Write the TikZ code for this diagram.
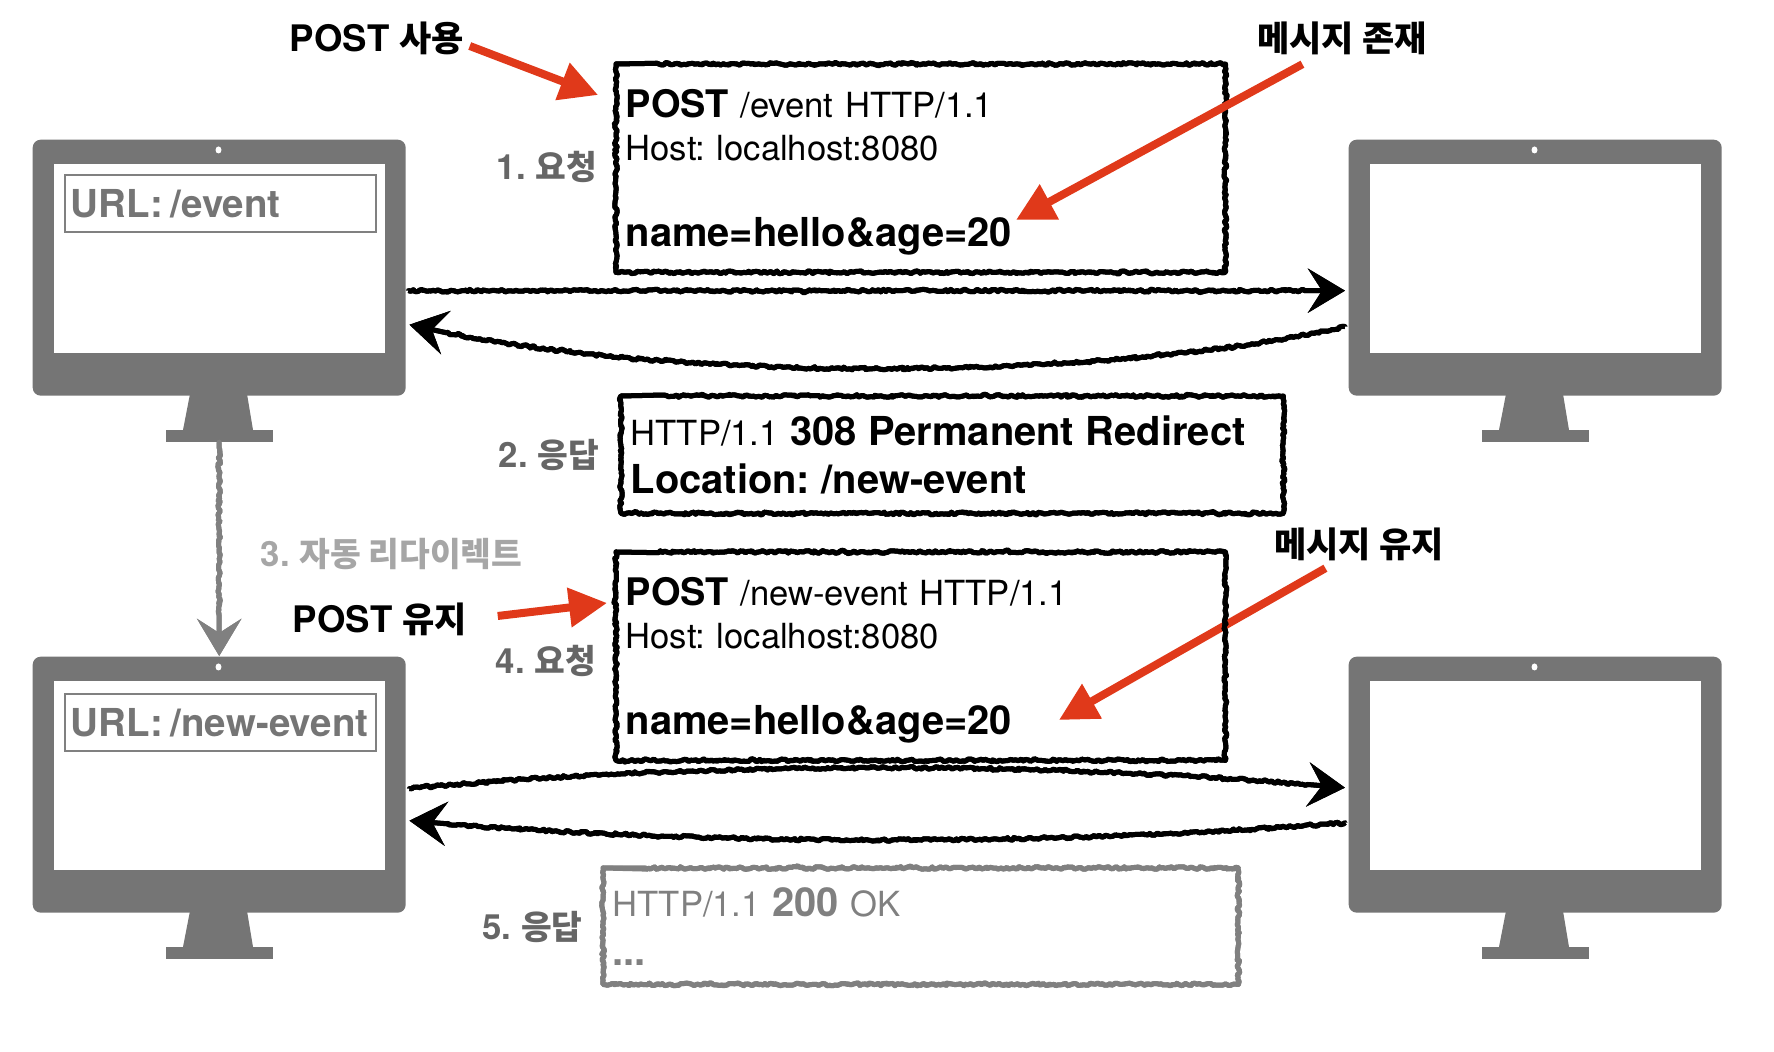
\documentclass[tikz,border=0pt]{standalone}
\usepackage{fontspec}
\setmainfont{TeX Gyre Heros}
\newfontfamily\kr[Scale=.96]{Noto Sans CJK KR}
\usetikzlibrary{arrows.meta,decorations.pathmorphing}
\definecolor{ink}{HTML}{000000}
\definecolor{mono}{HTML}{757575}
\definecolor{muted}{HTML}{808080}
\definecolor{pale}{HTML}{A6A6A6}
\definecolor{note}{HTML}{666666}
\definecolor{hot}{HTML}{E0391A}
\newcommand{\fsr}{\fontsize{9.85}{12.2}\selectfont\mdseries}
\newcommand{\fsb}{\fontsize{11.35}{12.2}\selectfont\bfseries}
\newcommand{\fsp}{\fontsize{10.8}{12.2}\selectfont\bfseries}
\newcommand{\lift}{\rule{0pt}{.36cm}}
\tikzset{
  rough/.style={line join=round, decorate, decoration={random steps, segment length=.025cm, amplitude=.013cm, post length=.4cm}},
  sketch/.style={draw=ink, line width=.05cm, rough, preaction={draw=ink, line width=.05cm, rough}},
  gsketch/.style={draw=muted, line width=.05cm, rough, preaction={draw=muted, line width=.05cm, rough}},
  sktip/.style={-{Stealth[length=.37cm, width=.44cm, inset=.14cm]}},
  hotline/.style={draw=hot, line width=.08cm, -{Triangle[length=.38cm, width=.38cm]}},
  lbl/.style={text=ink, font=\fontsize{10.4}{12}\selectfont\bfseries, inner sep=0pt},
  nlabel/.style={text=note, font=\fontsize{9.9}{12}\selectfont\bfseries, inner sep=0pt},
  msgbox/.style={inner xsep=.09cm, inner ysep=0pt, align=left, text=ink, font=\fsr},
  urlbox/.style={draw=muted, line width=.02cm, anchor=north west, minimum width=3.11cm,
    text width=2.99cm, inner xsep=.06cm, inner ysep=0pt, minimum height=.57cm, align=left,
    text=mono, font=\fontsize{10.95}{12}\selectfont\bfseries},
  monitor/.pic={
    \node[fill=mono, rounded corners=.08cm, anchor=north west, minimum width=3.73cm, minimum height=2.56cm, inner sep=0pt] (-body) at (0,0) {};
    \node[fill=white, anchor=north west, minimum width=3.31cm, minimum height=1.89cm, inner sep=0pt] (-screen) at (.21,.24) {};
    \node[fill=mono, anchor=north west, minimum width=1.07cm, minimum height=.12cm, inner sep=0pt] (-base) at (1.33,2.90) {};
    \fill[mono] (1.58,2.55) -- (2.15,2.55) -- (2.21,2.91) -- (1.51,2.91) -- cycle;
    \fill[white] (1.865,.11) ellipse (.03 and .035);
  }
}
\begin{document}
\frenchspacing
\begin{tikzpicture}[x=1cm, y=-1cm]
  \useasboundingbox (0,0) rectangle (17.74,10.52);
  \pgfmathsetseed{7}

  % monitors
  \pic (cla) at (.32,1.39) {monitor};
  \pic (srva) at (13.48,1.39) {monitor};
  \pic (clb) at (.32,6.56) {monitor};
  \pic (srvb) at (13.48,6.56) {monitor};

  \node[urlbox] (urla) at (.64,1.74) {URL:\kern-.05cm\ /event};
  \node[urlbox] (urlb) at (.64,6.93) {URL:\kern-.05cm\ /new-event};

  % labels
  \node[lbl] (postuse) at (3.77,.38) {POST {\kr 사용}};
  \node[lbl] (msgon) at (13.42,.38) {{\kr 메시지 존재}};
  \node[lbl] (postkeep) at (3.80,6.19) {POST {\kr 유지}};
  \node[lbl] (msgkeep) at (13.59,5.44) {{\kr 메시지 유지}};
  \node[nlabel] (stepa) at (5.47,1.67) {1. {\kr 요청}};
  \node[nlabel] (stepb) at (5.49,4.55) {2. {\kr 응답}};
  \node[nlabel, text=pale] (stepc) at (3.915,5.54) {3. {\kr 자동 리다이렉트}};
  \node[nlabel] (stepd) at (5.46,6.61) {4. {\kr 요청}};
  \node[nlabel] (stepe) at (5.325,9.27) {5. {\kr 응답}};

  % red pointers
  \coordinate (tipa) at (5.98,.95);
  \coordinate (tipb) at (10.16,2.20);
  \coordinate (tipc) at (6.07,6.03);
  \coordinate (tipd) at (10.59,7.20);
  \draw[hotline] ([shift={(.05,.08)}]postuse.east) -- (tipa);
  \draw[hotline] ([xshift=.3cm, yshift=.03cm]postkeep.east) -- (tipc);
  \draw[hotline] ([shift={(-1.19,.07)}]msgkeep.south east) -- (tipd);

  % messages
  \node[msgbox, anchor=north west, text width=5.9cm, minimum width=6.08cm, minimum height=2.07cm] (reqa) at (6.16,.64)
    {\lift\fsp POST \fsr /event HTTP/1.1\\ Host: localhost:8080\\[12.2pt] \fsb name=hello\&age=20};
  \node[msgbox, anchor=north west, text width=6.43cm, minimum width=6.61cm, minimum height=1.16cm] (resa) at (6.21,3.96)
    {\fsr HTTP/1.1 \fsb 308 Permanent Redirect\\[1.5pt] \fsb Location: /new-event};
  \node[msgbox, anchor=north west, text width=5.9cm, minimum width=6.08cm, minimum height=2.07cm] (reqb) at (6.16,5.52)
    {\lift\fsp POST \fsr /new-event HTTP/1.1\\ Host: localhost:8080\\[12.2pt] \fsb name=hello\&age=20};
  \node[msgbox, text=muted, anchor=north west, text width=6.16cm, minimum width=6.34cm, minimum height=1.15cm] (resb) at (6.03,8.68)
    {\fsr HTTP/1.1 \fsb 200 \fsr OK\\[1.7pt] \fsb ...};
  \foreach \b in {reqa,resa,reqb}
    \draw[sketch] (\b.north west) rectangle (\b.south east);
  \draw[gsketch] (resb.north west) rectangle (resb.south east);
  \draw[hotline] ([shift={(-1.25,.09)}]msgon.south east) -- (tipb);

  % exchanges
  \draw[sketch, sktip] ([xshift=.02cm, yshift=-.23cm]cla-body.east) -- ([xshift=-.03cm, yshift=-.23cm]srva-body.west);
  \draw[sketch, sktip] ([xshift=-.03cm, yshift=-.59cm]srva-body.west) .. controls (11,3.83) and (6.55,3.83) .. ([xshift=.03cm, yshift=-.57cm]cla-body.east);
  \draw[gsketch, sktip] (cla-base.south) -- (clb-body.north);
  \draw[sketch, sktip] ([xshift=.03cm, yshift=-.04cm]clb-body.east) .. controls (7,7.61) and (10.5,7.61) .. ([xshift=-.03cm, yshift=-.03cm]srvb-body.west);
  \draw[sketch, sktip] ([xshift=-.03cm, yshift=-.38cm]srvb-body.west) .. controls (10.5,8.46) and (7,8.46) .. ([xshift=.03cm, yshift=-.36cm]clb-body.east);
\end{tikzpicture}
\end{document}
